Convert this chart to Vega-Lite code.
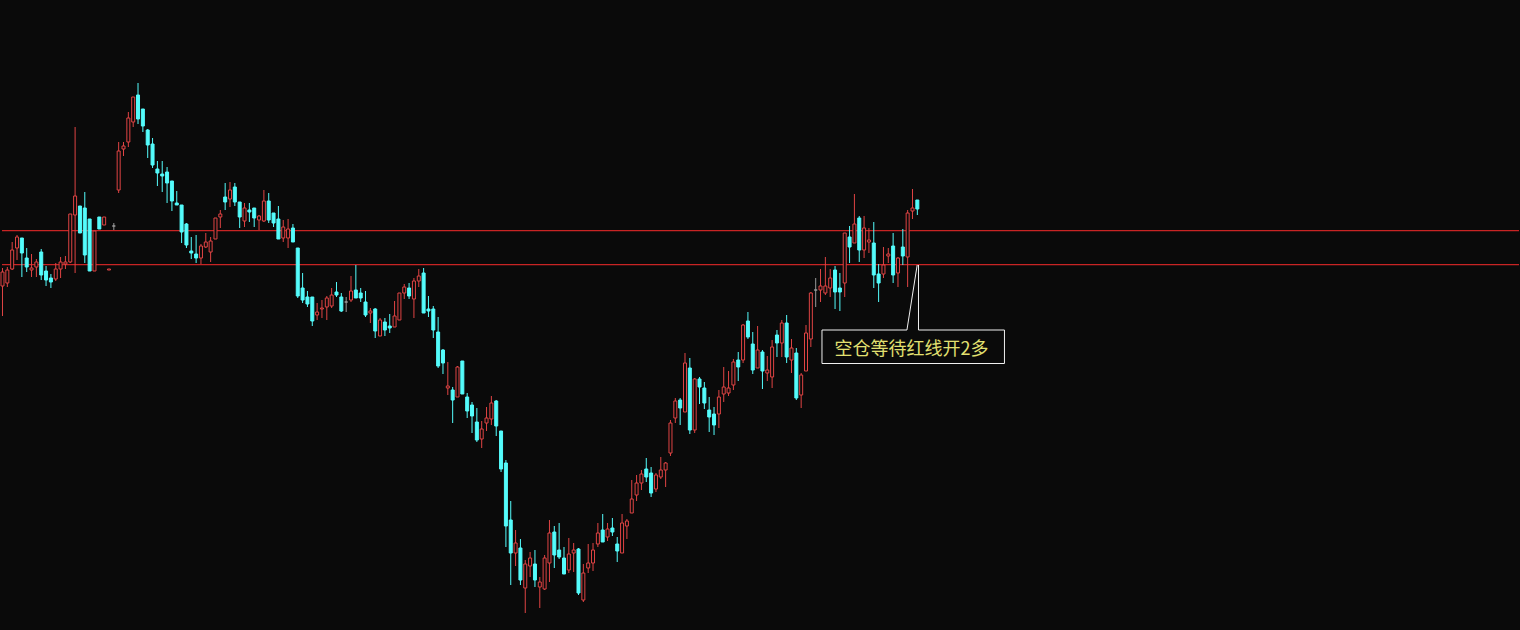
{
"$schema":"https://vega.github.io/schema/vega-lite/v6.json",
"width":1520,"height":630,"padding":0,
"autosize":{"type":"fit","contains":"padding"},
"background":"#0a0a0a",
"config":{"view":{"stroke":null}},
"datasets":{
"k":[
{"t":0,"open":344,"high":362,"low":314,"close":358},
{"t":1,"open":347,"high":363,"low":343,"close":360},
{"t":2,"open":361,"high":388,"low":360,"close":380},
{"t":3,"open":382,"high":395,"low":370,"close":393},
{"t":4,"open":392,"high":392,"low":353,"close":377},
{"t":5,"open":372,"high":382,"low":358,"close":363},
{"t":6,"open":360,"high":376,"low":353,"close":362},
{"t":7,"open":363,"high":371,"low":353,"close":368},
{"t":8,"open":378,"high":381,"low":350,"close":355},
{"t":9,"open":359,"high":364,"low":344,"close":350},
{"t":10,"open":352,"high":356,"low":342,"close":348},
{"t":11,"open":351,"high":367,"low":349,"close":361},
{"t":12,"open":361,"high":373,"low":352,"close":368},
{"t":13,"open":366,"high":374,"low":361,"close":368},
{"t":14,"open":368,"high":416,"low":367,"close":416},
{"t":15,"open":415,"high":503,"low":357,"close":434},
{"t":16,"open":424,"high":424,"low":397,"close":397},
{"t":17,"open":422,"high":438,"low":367,"close":375},
{"t":18,"open":411,"high":411,"low":359,"close":359},
{"t":19,"open":359,"high":399,"low":359,"close":399},
{"t":20,"open":413,"high":413,"low":401,"close":401},
{"t":21,"open":405,"high":413,"low":405,"close":413},
{"t":22,"open":360,"high":361,"low":360,"close":361},
{"t":23,"open":404,"high":407,"low":400,"close":404},
{"t":24,"open":440,"high":488,"low":437,"close":479},
{"t":25,"open":481,"high":488,"low":474,"close":484},
{"t":26,"open":488,"high":518,"low":483,"close":512},
{"t":27,"open":508,"high":533,"low":503,"close":533},
{"t":28,"open":535,"high":547,"low":506,"close":511},
{"t":29,"open":521,"high":521,"low":498,"close":504},
{"t":30,"open":500,"high":501,"low":472,"close":485},
{"t":31,"open":486,"high":492,"low":462,"close":465},
{"t":32,"open":461,"high":469,"low":444,"close":457},
{"t":33,"open":456,"high":469,"low":438,"close":454},
{"t":34,"open":458,"high":463,"low":427,"close":447},
{"t":35,"open":449,"high":449,"low":419,"close":429},
{"t":36,"open":427,"high":439,"low":425,"close":425},
{"t":37,"open":425,"high":425,"low":387,"close":398},
{"t":38,"open":406,"high":407,"low":382,"close":385},
{"t":39,"open":379,"high":393,"low":371,"close":377},
{"t":40,"open":376,"high":395,"low":367,"close":372},
{"t":41,"open":372,"high":386,"low":366,"close":384},
{"t":42,"open":383,"high":397,"low":382,"close":388},
{"t":43,"open":378,"high":393,"low":368,"close":389},
{"t":44,"open":391,"high":412,"low":391,"close":412},
{"t":45,"open":413,"high":420,"low":402,"close":416},
{"t":46,"open":433,"high":447,"low":420,"close":428},
{"t":47,"open":431,"high":448,"low":423,"close":440},
{"t":48,"open":443,"high":447,"low":424,"close":428},
{"t":49,"open":428,"high":428,"low":402,"close":413},
{"t":50,"open":409,"high":427,"low":403,"close":422},
{"t":51,"open":420,"high":427,"low":408,"close":418},
{"t":52,"open":422,"high":422,"low":403,"close":412},
{"t":53,"open":410,"high":415,"low":400,"close":414},
{"t":54,"open":409,"high":440,"low":408,"close":429},
{"t":55,"open":429,"high":437,"low":407,"close":410},
{"t":56,"open":417,"high":417,"low":403,"close":407},
{"t":57,"open":411,"high":424,"low":391,"close":391},
{"t":58,"open":392,"high":410,"low":388,"close":403},
{"t":59,"open":392,"high":411,"low":382,"close":401},
{"t":60,"open":402,"high":406,"low":388,"close":388},
{"t":61,"open":382,"high":382,"low":332,"close":334},
{"t":62,"open":342,"high":357,"low":327,"close":330},
{"t":63,"open":333,"high":339,"low":323,"close":326},
{"t":64,"open":333,"high":333,"low":304,"close":309},
{"t":65,"open":315,"high":327,"low":310,"close":318},
{"t":66,"open":321,"high":330,"low":312,"close":322},
{"t":67,"open":323,"high":334,"low":310,"close":332},
{"t":68,"open":324,"high":342,"low":322,"close":335},
{"t":69,"open":338,"high":348,"low":333,"close":335},
{"t":70,"open":333,"high":337,"low":318,"close":319},
{"t":71,"open":328,"high":333,"low":318,"close":328},
{"t":72,"open":330,"high":354,"low":328,"close":339},
{"t":73,"open":340,"high":365,"low":332,"close":332},
{"t":74,"open":337,"high":342,"low":328,"close":332},
{"t":75,"open":328,"high":339,"low":313,"close":315},
{"t":76,"open":317,"high":322,"low":307,"close":319},
{"t":77,"open":321,"high":322,"low":292,"close":299},
{"t":78,"open":294,"high":312,"low":294,"close":310},
{"t":79,"open":308,"high":312,"low":294,"close":300},
{"t":80,"open":304,"high":316,"low":297,"close":302},
{"t":81,"open":303,"high":329,"low":303,"close":314},
{"t":82,"open":310,"high":337,"low":310,"close":337},
{"t":83,"open":337,"high":346,"low":331,"close":343},
{"t":84,"open":342,"high":347,"low":331,"close":334},
{"t":85,"open":331,"high":352,"low":312,"close":349},
{"t":86,"open":349,"high":361,"low":343,"close":354},
{"t":87,"open":357,"high":362,"low":317,"close":317},
{"t":88,"open":321,"high":334,"low":313,"close":319},
{"t":89,"open":321,"high":324,"low":292,"close":300},
{"t":90,"open":298,"high":313,"low":262,"close":264},
{"t":91,"open":280,"high":281,"low":256,"close":267},
{"t":92,"open":242,"high":268,"low":235,"close":244},
{"t":93,"open":240,"high":243,"low":207,"close":230},
{"t":94,"open":233,"high":264,"low":233,"close":263},
{"t":95,"open":269,"high":269,"low":236,"close":236},
{"t":96,"open":233,"high":237,"low":212,"close":219},
{"t":97,"open":225,"high":228,"low":197,"close":214},
{"t":98,"open":208,"high":222,"low":188,"close":190},
{"t":99,"open":191,"high":209,"low":182,"close":201},
{"t":100,"open":207,"high":223,"low":199,"close":212},
{"t":101,"open":211,"high":234,"low":205,"close":227},
{"t":102,"open":229,"high":230,"low":194,"close":204},
{"t":103,"open":199,"high":199,"low":158,"close":161},
{"t":104,"open":167,"high":170,"low":83,"close":104},
{"t":105,"open":110,"high":129,"low":45,"close":77},
{"t":106,"open":77,"high":100,"low":64,"close":87},
{"t":107,"open":82,"high":91,"low":45,"close":50},
{"t":108,"open":42,"high":70,"low":17,"close":66},
{"t":109,"open":64,"high":78,"low":53,"close":72},
{"t":110,"open":66,"high":80,"low":43,"close":50},
{"t":111,"open":43,"high":53,"low":22,"close":48},
{"t":112,"open":41,"high":75,"low":40,"close":72},
{"t":113,"open":67,"high":110,"low":48,"close":97},
{"t":114,"open":98,"high":104,"low":62,"close":75},
{"t":115,"open":80,"high":107,"low":71,"close":73},
{"t":116,"open":72,"high":83,"low":56,"close":56},
{"t":117,"open":60,"high":92,"low":57,"close":76},
{"t":118,"open":77,"high":87,"low":58,"close":80},
{"t":119,"open":81,"high":82,"low":35,"close":37},
{"t":120,"open":30,"high":66,"low":28,"close":57},
{"t":121,"open":62,"high":86,"low":57,"close":67},
{"t":122,"open":67,"high":87,"low":59,"close":80},
{"t":123,"open":86,"high":107,"low":83,"close":97},
{"t":124,"open":100,"high":116,"low":88,"close":88},
{"t":125,"open":93,"high":107,"low":89,"close":101},
{"t":126,"open":102,"high":112,"low":94,"close":98},
{"t":127,"open":86,"high":93,"low":68,"close":79},
{"t":128,"open":77,"high":116,"low":77,"close":107},
{"t":129,"open":104,"high":111,"low":91,"close":109},
{"t":130,"open":117,"high":150,"low":117,"close":131},
{"t":131,"open":135,"high":155,"low":129,"close":147},
{"t":132,"open":147,"high":160,"low":140,"close":156},
{"t":133,"open":161,"high":172,"low":148,"close":153},
{"t":134,"open":157,"high":163,"low":133,"close":137},
{"t":135,"open":141,"high":157,"low":138,"close":155},
{"t":136,"open":153,"high":173,"low":151,"close":160},
{"t":137,"open":160,"high":168,"low":143,"close":167},
{"t":138,"open":177,"high":210,"low":174,"close":207},
{"t":139,"open":212,"high":232,"low":207,"close":229},
{"t":140,"open":230,"high":232,"low":205,"close":222},
{"t":141,"open":218,"high":277,"low":218,"close":267},
{"t":142,"open":262,"high":272,"low":196,"close":200},
{"t":143,"open":200,"high":252,"low":197,"close":251},
{"t":144,"open":251,"high":253,"low":226,"close":243},
{"t":145,"open":242,"high":248,"low":221,"close":227},
{"t":146,"open":220,"high":233,"low":198,"close":213},
{"t":147,"open":216,"high":223,"low":195,"close":205},
{"t":148,"open":216,"high":240,"low":202,"close":233},
{"t":149,"open":236,"high":263,"low":228,"close":243},
{"t":150,"open":237,"high":259,"low":234,"close":242},
{"t":151,"open":245,"high":271,"low":240,"close":268},
{"t":152,"open":270,"high":278,"low":249,"close":263},
{"t":153,"open":270,"high":306,"low":267,"close":305},
{"t":154,"open":309,"high":318,"low":291,"close":293},
{"t":155,"open":286,"high":298,"low":256,"close":260},
{"t":156,"open":262,"high":304,"low":262,"close":280},
{"t":157,"open":278,"high":280,"low":241,"close":259},
{"t":158,"open":257,"high":274,"low":249,"close":260},
{"t":159,"open":253,"high":290,"low":242,"close":283},
{"t":160,"open":295,"high":300,"low":273,"close":287},
{"t":161,"open":287,"high":310,"low":273,"close":307},
{"t":162,"open":307,"high":315,"low":267,"close":273},
{"t":163,"open":270,"high":291,"low":257,"close":282},
{"t":164,"open":277,"high":282,"low":230,"close":232},
{"t":165,"open":235,"high":257,"low":222,"close":255},
{"t":166,"open":259,"high":305,"low":259,"close":297},
{"t":167,"open":291,"high":338,"low":283,"close":337},
{"t":168,"open":340,"high":352,"low":323,"close":340},
{"t":169,"open":340,"high":361,"low":328,"close":344},
{"t":170,"open":337,"high":373,"low":335,"close":344},
{"t":171,"open":342,"high":361,"low":333,"close":352},
{"t":172,"open":360,"high":364,"low":321,"close":338},
{"t":173,"open":342,"high":357,"low":319,"close":338},
{"t":174,"open":347,"high":397,"low":333,"close":397},
{"t":175,"open":393,"high":404,"low":367,"close":383},
{"t":176,"open":387,"high":436,"low":387,"close":406},
{"t":177,"open":412,"high":414,"low":368,"close":380},
{"t":178,"open":380,"high":414,"low":372,"close":402},
{"t":179,"open":388,"high":402,"low":377,"close":390},
{"t":180,"open":387,"high":408,"low":342,"close":355},
{"t":181,"open":356,"high":366,"low":328,"close":347},
{"t":182,"open":356,"high":383,"low":352,"close":365},
{"t":183,"open":374,"high":382,"low":367,"close":376},
{"t":184,"open":384,"high":397,"low":347,"close":355},
{"t":185,"open":357,"high":373,"low":343,"close":372},
{"t":186,"open":383,"high":401,"low":365,"close":374},
{"t":187,"open":373,"high":420,"low":343,"close":417},
{"t":188,"open":419,"high":441,"low":411,"close":422},
{"t":189,"open":430,"high":430,"low":415,"close":421}
],
"lines":[{"level":399.3},{"level":365.3}],
"box":[{"x1":169.3,"x2":207.0,"y1":300,"y2":266.5}],
"seg":[
{"xa":169.3,"ya":300,"xb":186.85,"yb":300},
{"xa":189.24,"ya":300,"xb":207.0,"yb":300},
{"xa":169.3,"ya":266.5,"xb":207.0,"yb":266.5},
{"xa":169.3,"ya":300,"xb":169.3,"yb":266.5},
{"xa":207.0,"ya":300,"xb":207.0,"yb":266.5},
{"xa":186.85,"ya":300,"xb":188.97,"yb":365},
{"xa":189.24,"ya":365,"xb":189.24,"yb":300}
],
"note":[{"t":171.9,"p":275,"label":"空仓等待红线开2多"}]
},
"layer":[
{"data":{"name":"lines"},"mark":{"type":"rule","color":"#c82424","strokeWidth":1.2},
 "encoding":{"y":{"field":"level","type":"quantitative","scale":{"domain":[0,630],"nice":false,"zero":false},"axis":null}}},
{"data":{"name":"k"},"mark":{"type":"rule","strokeWidth":1},
 "encoding":{
  "x":{"field":"t","type":"quantitative","scale":{"domain":[-0.103,313.3],"nice":false,"zero":false,"padding":0},"axis":null},
  "y":{"field":"low","type":"quantitative","scale":{"domain":[0,630],"nice":false,"zero":false},"axis":null},
  "y2":{"field":"high"},
  "stroke":{"condition":[{"test":"datum.close>datum.open","value":"#e04444"},{"test":"datum.close<datum.open","value":"#54fcfc"}],"value":"#9a9a9a"}}},
{"data":{"name":"k"},"mark":{"type":"bar","width":3,"strokeWidth":1},
 "encoding":{
  "x":{"field":"t","type":"quantitative","scale":{"domain":[-0.103,313.3],"nice":false,"zero":false,"padding":0},"axis":null},
  "y":{"field":"open","type":"quantitative","scale":{"domain":[0,630],"nice":false,"zero":false},"axis":null},
  "y2":{"field":"close"},
  "fill":{"condition":[{"test":"datum.close>datum.open","value":"#0a0a0a"},{"test":"datum.close<datum.open","value":"#54fcfc"}],"value":"#9a9a9a"},
  "stroke":{"condition":[{"test":"datum.close>datum.open","value":"#e04444"},{"test":"datum.close<datum.open","value":"#54fcfc"}],"value":"#9a9a9a"}}},
{"data":{"name":"box"},"mark":{"type":"rect","fill":"#0a0a0a"},
 "encoding":{
  "x":{"field":"x1","type":"quantitative"},"x2":{"field":"x2"},
  "y":{"field":"y1","type":"quantitative"},"y2":{"field":"y2"}}},
{"data":{"name":"seg"},"mark":{"type":"rule","color":"#f0f0f0","strokeWidth":1},
 "encoding":{
  "x":{"field":"xa","type":"quantitative"},"x2":{"field":"xb"},
  "y":{"field":"ya","type":"quantitative"},"y2":{"field":"yb"}}},
{"data":{"name":"note"},"mark":{"type":"text","align":"left","baseline":"alphabetic","font":"Noto Sans CJK SC","fontSize":18,"color":"#e2e070"},
 "encoding":{
  "x":{"field":"t","type":"quantitative"},
  "y":{"field":"p","type":"quantitative"},
  "text":{"field":"label"}}}
]
}
